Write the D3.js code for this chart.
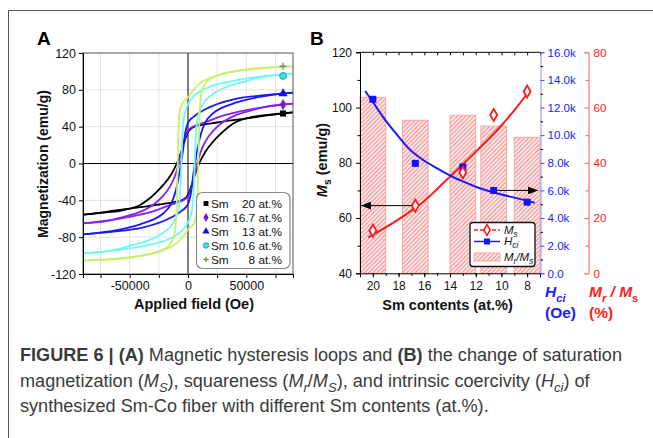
<!DOCTYPE html>
<html>
<head>
<meta charset="utf-8">
<script src="https://cdn.jsdelivr.net/npm/d3@7"></script>
<style>
body { margin: 0; background: #fff; }
svg { display: block; font-family: "Liberation Sans", Arial, sans-serif; }
</style>
</head>
<body>
<svg id="chart" width="653" height="438"></svg>
<script>
// ---------- panel A : hysteresis loops (field Oe, magnetization emu/g) ----------
var loopLabels = ["20", "16.7", "13", "10.6", "8"];

var loop20Upper = [[-90000,-55.5],[-70000,-53],[-55000,-50.5],[-41000,-45],[-35000,-40],[-27000,-31],[-21000,-23],[-15000,-13],[-9600,0],[-6000,12],[-3000,24],[0,34],[4000,39],[10000,41.5],[20000,43.5],[35000,46.5],[50000,49],[70000,52.5],[90000,55.5]];
var loop20Lower = [[-90000,-55.5],[-70000,-52.5],[-50000,-49],[-35000,-46.5],[-20000,-43.5],[-10000,-41.5],[-4000,-39],[0,-34],[3000,-24],[6000,-12],[9600,0],[15000,13],[21000,23],[27000,31],[35000,40],[41000,45],[55000,50.5],[70000,53],[90000,55.5]];

var loop167Upper = [[-90000,-65],[-70000,-62.5],[-55000,-58],[-40000,-52],[-30000,-45],[-22000,-36],[-15000,-24],[-11000,-13],[-8000,0],[-5500,13],[-3000,26],[0,36],[5000,40.5],[15000,45],[30000,52],[50000,58],[70000,62],[90000,65]];
var loop167Lower = [[-90000,-65],[-70000,-62],[-50000,-58],[-30000,-52],[-15000,-45],[-5000,-40.5],[0,-36],[3000,-26],[5500,-13],[8000,0],[11000,13],[15000,24],[22000,36],[30000,45],[40000,52],[55000,58],[70000,62.5],[90000,65]];

var loop13Upper = [[-90000,-77],[-60000,-72],[-41000,-66],[-30000,-61],[-21000,-54],[-15000,-45],[-11000,-32],[-8000,-15],[-6000,0],[-4500,12],[-3000,28],[0,44],[5000,51],[15000,59],[40000,70],[60000,73.5],[90000,77]];
var loop13Lower = [[-90000,-77],[-60000,-73.5],[-40000,-70],[-15000,-59],[-5000,-51],[0,-44],[3000,-28],[4500,-12],[6000,0],[8000,15],[11000,32],[15000,45],[21000,54],[30000,61],[41000,66],[60000,72],[90000,77]];

var loop106Upper = [[-90000,-97.5],[-60000,-93],[-49000,-89],[-35000,-84],[-21000,-75],[-13000,-65],[-9600,-56],[-7500,-42],[-6500,-25],[-5700,0],[-5000,25],[-4000,45],[-2000,58],[0,64],[2500,69],[5000,73],[10000,78],[20000,84],[40000,90],[60000,94],[90000,97.5]];
var loop106Lower = [[-90000,-97.5],[-60000,-94],[-40000,-90],[-20000,-84],[-10000,-78],[-5000,-73],[-2500,-69],[0,-64],[2000,-58],[4000,-45],[5000,-25],[5700,0],[6500,25],[7500,42],[9600,56],[13000,65],[21000,75],[35000,84],[49000,89],[60000,93],[90000,97.5]];

var loop8Upper = [[-90000,-105.5],[-55000,-102.5],[-35000,-99],[-22000,-94],[-15000,-87],[-11500,-76],[-10000,-55],[-9300,-25],[-8800,0],[-8300,30],[-7300,55],[-5000,65],[-2000,69],[0,72],[4000,79],[10000,87],[18000,92.5],[26000,96],[40000,100],[55000,103],[90000,105.5]];
var loop8Lower = [[-90000,-105.5],[-55000,-103],[-40000,-100],[-26000,-96],[-18000,-92.5],[-10000,-87],[-4000,-79],[0,-72],[2000,-69],[5000,-65],[7300,-55],[8300,-30],[8800,0],[9300,25],[10000,55],[11500,76],[15000,87],[22000,94],[35000,99],[55000,102.5],[90000,105.5]];

var markerField = 81500;
var markerMs = [54.3, 64, 76, 95.1, 105.6];

var fieldTicks = [-75000, -50000, -25000, 0, 25000, 50000, 75000];
var fieldLabels = [-50000, 0, 50000];
var magTicks = [-120, -80, -40, 0, 40, 80, 120];

// ---------- panel B ----------
var smContents = [20, 16.7, 13, 10.6, 8];
var msValues = [55.5, 64.5, 76.5, 97.3, 105.8];
var hciValues = [12600, 7960, 7700, 6000, 5150];
var squareness = [63.7, 55.4, 57.2, 53.3, 49.2];
var msFit = [[20.35,53],[19,56.6],[18,59.5],[17,62.7],[16,66.2],[15,70.5],[14,75],[13,79.5],[12,84],[11,88.6],[10,93.5],[9,99],[8,105],[7.8,106.3]];
var hciFit = [[20.6,13200],[20,12400],[19,11050],[18,9900],[17,8850],[16,8150],[15,7600],[14,7080],[13,6650],[12,6270],[11,5960],[10,5700],[9,5480],[8,5260],[7.4,5100]];
var smTicks = [20, 18, 16, 14, 12, 10, 8];
var msTicks = [40, 60, 80, 100, 120];
var hciTicks = [0, 2000, 4000, 6000, 8000, 10000, 12000, 14000, 16000];
var ratioTicks = [0, 20, 40, 60, 80];

var loops = [
  { label: loopLabels[0], upper: loop20Upper, lower: loop20Lower, color: "#000000", mark: "square", mcol: "#000" },
  { label: loopLabels[1], upper: loop167Upper, lower: loop167Lower, color: "#8a20f5", mark: "diamond", mcol: "#7a18d8" },
  { label: loopLabels[2], upper: loop13Upper, lower: loop13Lower, color: "#1818f8", mark: "triangle", mcol: "#1010e0" },
  { label: loopLabels[3], upper: loop106Upper, lower: loop106Lower, color: "#6ef8f8", mark: "circle", mcol: "#33e6e6" },
  { label: loopLabels[4], upper: loop8Upper, lower: loop8Lower, color: "#c4f266", mark: "cross", mcol: "#6f8f55" }
];

var svg = d3.select("#chart");
svg.append("rect").attr("width", 653).attr("height", 438).attr("fill", "#fff");
svg.append("path").attr("d", "M8.5,438V10.5H653").attr("fill", "none").attr("stroke", "#555");

function plain(d) { return String(d); }

function drawMarker(g, type, x, y, s, col) {
  if (type == "cross") {
    g.append("path").attr("d", "M" + (x - s) + "," + y + "H" + (x + s) + "M" + x + "," + (y - s) + "V" + (y + s))
      .attr("stroke", col).attr("stroke-width", 1.3);
    return;
  }
  var sym = { square: d3.symbolSquare, diamond: d3.symbolDiamond, triangle: d3.symbolTriangle, circle: d3.symbolCircle }[type];
  var p = g.append("path").attr("d", d3.symbol(sym, s * s * 3.2)()).attr("transform", "translate(" + x + "," + y + ")").attr("fill", col);
  if (type == "circle") p.attr("stroke", "#178f9a").attr("stroke-width", 0.8);
}

// text with sub scripts
function addRuns(sel, runs, size) {
  var shifted = 0;
  runs.forEach(function(r) {
    var ts = sel.append("tspan").text(r.t);
    if (r.b) ts.attr("font-weight", "bold");
    if (r.i) ts.attr("font-style", "italic");
    var want = r.sub ? size * 0.3 : 0;
    if (want != shifted) { ts.attr("dy", want - shifted); shifted = want; }
    if (r.sub) ts.attr("font-size", size * 0.72);
  });
}

/////////// Panel A ///////////
var xA = d3.scaleLinear().domain([-90000, 90000]).range([83, 293]);
var yA = d3.scaleLinear().domain([-120, 120]).range([274, 53]);
var gA = svg.append("g");

gA.selectAll(".vgrid").data(fieldTicks.filter(function(d) { return d != 0; })).enter().append("line")
  .attr("x1", function(d) { return xA(d); }).attr("x2", function(d) { return xA(d); })
  .attr("y1", yA(120)).attr("y2", yA(-120)).attr("stroke", "#e2e2e2");
gA.selectAll(".hgrid").data(magTicks.filter(function(d) { return d != 0 && Math.abs(d) != 120; })).enter().append("line")
  .attr("y1", function(d) { return yA(d); }).attr("y2", function(d) { return yA(d); })
  .attr("x1", xA(-90000)).attr("x2", xA(90000)).attr("stroke", "#e2e2e2");
gA.append("line").attr("x1", xA(0)).attr("x2", xA(0)).attr("y1", yA(120)).attr("y2", yA(-120)).attr("stroke", "#000");
gA.append("line").attr("y1", yA(0)).attr("y2", yA(0)).attr("x1", xA(-90000)).attr("x2", xA(90000)).attr("stroke", "#000");

var lineA = d3.line().x(function(d) { return xA(d[0]); }).y(function(d) { return yA(d[1]); }).curve(d3.curveMonotoneX);
loops.forEach(function(l) {
  [l.upper, l.lower].forEach(function(br) {
    gA.append("path").attr("d", lineA(br)).attr("fill", "none").attr("stroke", l.color).attr("stroke-width", 1.8);
  });
});
loops.forEach(function(l, i) {
  drawMarker(gA, l.mark, xA(markerField), yA(markerMs[i]), 3.4, l.mcol);
});

gA.append("rect").attr("x", 83).attr("y", 53).attr("width", 210).attr("height", 221).attr("fill", "none").attr("stroke", "#555");

var axA = gA.append("g").attr("transform", "translate(0,274)")
  .call(d3.axisBottom(xA).tickValues(fieldTicks).tickSize(4).tickPadding(3)
    .tickFormat(function(d) { return fieldLabels.indexOf(d) >= 0 ? String(d) : ""; }));
var ayA = gA.append("g").attr("transform", "translate(83,0)")
  .call(d3.axisLeft(yA).tickValues(magTicks).tickSize(4).tickPadding(3).tickFormat(plain));
[axA, ayA].forEach(function(a) {
  a.select(".domain").attr("stroke", "#000");
  a.selectAll("text").attr("font-size", 12.5).attr("font-family", "Liberation Sans, Arial, sans-serif").attr("fill", "#111");
});

svg.append("text").attr("x", 37).attr("y", 45).attr("font-size", 19).attr("font-weight", "bold").text("A");
svg.append("text").attr("transform", "translate(48,164) rotate(-90)").attr("text-anchor", "middle")
  .attr("font-size", 14).attr("font-weight", "bold").attr("fill", "#111").text("Magnetization (emu/g)");
svg.append("text").attr("x", 194).attr("y", 309).attr("text-anchor", "middle")
  .attr("font-size", 14.5).attr("font-weight", "bold").attr("fill", "#111").text("Applied field (Oe)");

// legend A
var legA = svg.append("g");
legA.append("rect").attr("x", 196.5).attr("y", 192.5).attr("width", 93.5).attr("height", 76).attr("rx", 6)
  .attr("fill", "#fff").attr("stroke", "#888").attr("stroke-width", 1.2);
loops.forEach(function(l, i) {
  var yy = 203.5 + i * 14;
  drawMarker(legA, l.mark, 206, yy, 2.7, l.mcol);
  legA.append("text").attr("x", 211).attr("y", yy + 4).attr("font-size", 11.8).attr("fill", "#111").text("Sm");
  legA.append("text").attr("x", 282).attr("y", yy + 4).attr("font-size", 11.8).attr("fill", "#111")
    .attr("text-anchor", "end").text(l.label + " at.%");
});

/////////// Panel B ///////////
var xB = d3.scaleLinear().domain([21, 7]).range([360, 540]);
var yMs = d3.scaleLinear().domain([40, 120]).range([273.3, 52.3]);
var yHci = d3.scaleLinear().domain([0, 16000]).range([273.3, 52.3]);
var yRatio = d3.scaleLinear().domain([0, 80]).range([273.3, 52.3]);
var gB = svg.append("g");

var defs = svg.append("defs");
var pat = defs.append("pattern").attr("id", "hatch").attr("patternUnits", "userSpaceOnUse")
  .attr("width", 3).attr("height", 3).attr("patternTransform", "rotate(45)");
pat.append("rect").attr("width", 3).attr("height", 3).attr("fill", "#fde6e6");
pat.append("line").attr("x1", 0.5).attr("y1", 0).attr("x2", 0.5).attr("y2", 3).attr("stroke", "#f39191").attr("stroke-width", 1);
defs.append("marker").attr("id", "arrow").attr("viewBox", "0 0 10 8").attr("refX", 10).attr("refY", 4)
  .attr("markerWidth", 10).attr("markerHeight", 8).attr("markerUnits", "userSpaceOnUse").attr("orient", "auto")
  .append("path").attr("d", "M0,0L10,4L0,8z").attr("fill", "#000");

gB.selectAll(".bar").data(smContents).enter().append("rect")
  .attr("x", function(d) { return xB(d + 1); })
  .attr("width", function(d) { return xB(d - 1) - xB(d + 1); })
  .attr("y", function(d, i) { return yRatio(squareness[i]); })
  .attr("height", function(d, i) { return yRatio(0) - yRatio(squareness[i]); })
  .attr("fill", "url(#hatch)").attr("stroke", "#f5a5a5").attr("stroke-width", 1);

var lineMs = d3.line().x(function(d) { return xB(d[0]); }).y(function(d) { return yMs(d[1]); }).curve(d3.curveCatmullRom);
var lineHci = d3.line().x(function(d) { return xB(d[0]); }).y(function(d) { return yHci(d[1]); }).curve(d3.curveCatmullRom);
gB.append("path").attr("d", lineMs(msFit)).attr("fill", "none").attr("stroke", "#ff1a1a").attr("stroke-width", 2);
gB.append("path").attr("d", lineHci(hciFit)).attr("fill", "none").attr("stroke", "#1a1aff").attr("stroke-width", 2);

gB.selectAll(".hci").data(smContents).enter().append("rect")
  .attr("x", function(d) { return xB(d) - 3.5; })
  .attr("y", function(d, i) { return yHci(hciValues[i]) - 3.5; })
  .attr("width", 7).attr("height", 7).attr("fill", "#1010ff");
gB.selectAll(".ms").data(smContents).enter().append("path")
  .attr("d", d3.symbol(d3.symbolDiamond, 42)())
  .attr("transform", function(d, i) { return "translate(" + xB(d) + "," + yMs(msValues[i]) + ")"; })
  .attr("fill", "#fff").attr("stroke", "#ff1a1a").attr("stroke-width", 1.8);

// arrows pointing at the axis each series belongs to
gB.append("line").attr("x1", xB(smContents[1]) - 4).attr("x2", xB(21) + 1)
  .attr("y1", yMs(msValues[1])).attr("y2", yMs(msValues[1])).attr("stroke", "#000").attr("marker-end", "url(#arrow)");
gB.append("line").attr("x1", xB(smContents[3]) + 4).attr("x2", xB(7) - 2)
  .attr("y1", yHci(hciValues[3])).attr("y2", yHci(hciValues[3])).attr("stroke", "#000").attr("marker-end", "url(#arrow)");

// frame + axes
gB.append("line").attr("x1", 360).attr("x2", 540).attr("y1", 52.3).attr("y2", 52.3).attr("stroke", "#000");
var minorSm = d3.range(21, 6, -1);
gB.append("g").attr("transform", "translate(0,52.3)").call(d3.axisTop(xB).tickValues(minorSm).tickSize(-3).tickFormat(""))
  .select(".domain").remove();
var axB = gB.append("g").attr("transform", "translate(0,273.3)")
  .call(d3.axisBottom(xB).tickValues(smTicks).tickSize(4).tickPadding(4).tickFormat(plain));
gB.append("g").attr("transform", "translate(0,273.3)").call(d3.axisBottom(xB).tickValues(minorSm).tickSize(2.5).tickFormat(""))
  .select(".domain").remove();
var ayB = gB.append("g").attr("transform", "translate(360,0)")
  .call(d3.axisLeft(yMs).tickValues(msTicks).tickSize(4).tickPadding(4).tickFormat(plain));
gB.append("g").attr("transform", "translate(360,0)").call(d3.axisLeft(yMs).tickValues([50, 70, 90, 110]).tickSize(2.5).tickFormat(""))
  .select(".domain").remove();
[axB, ayB].forEach(function(a) {
  a.select(".domain").attr("stroke", "#000");
  a.selectAll("text").attr("font-size", 12).attr("font-family", "Liberation Sans, Arial, sans-serif").attr("fill", "#111");
});

var aBlue = gB.append("g").attr("transform", "translate(540.5,0)")
  .call(d3.axisRight(yHci).tickValues(hciTicks).tickSize(4).tickPadding(3)
    .tickFormat(function(d) { return (d / 1000).toFixed(1) + (d == 0 ? "" : "k"); }));
gB.append("g").attr("transform", "translate(540.5,0)").call(d3.axisRight(yHci).tickValues(d3.range(1000, 16000, 2000)).tickSize(2.5).tickFormat(""))
  .select(".domain").remove();
aBlue.select(".domain").attr("stroke", "#8c8cff");
aBlue.selectAll("line").attr("stroke", "#4040ff");
aBlue.selectAll("text").attr("fill", "#1a1aff").attr("font-size", 11.6).attr("font-family", "Liberation Sans, Arial, sans-serif");

var aRed = gB.append("g").attr("transform", "translate(588.5,0)")
  .call(d3.axisRight(yRatio).tickValues(ratioTicks).tickSize(-4).tickPadding(5).tickFormat(plain));
gB.append("g").attr("transform", "translate(588.5,0)").call(d3.axisRight(yRatio).tickValues([10, 30, 50, 70]).tickSize(-3).tickFormat(""))
  .selectAll("line").attr("stroke", "#ff5050");
aRed.select(".domain").attr("stroke", "#ff8a8a");
aRed.selectAll("line").attr("stroke", "#ff5050");
aRed.selectAll("text").attr("fill", "#ff2020").attr("font-size", 11.6).attr("font-family", "Liberation Sans, Arial, sans-serif");
gB.selectAll(".domain").filter(function() { return !this.getAttribute("stroke") || this.getAttribute("stroke") == "currentColor"; })
  .attr("stroke", "#ff8a8a");

svg.append("text").attr("x", 310).attr("y", 45).attr("font-size", 19).attr("font-weight", "bold").text("B");

var tMs = svg.append("text").attr("transform", "translate(327,160) rotate(-90)").attr("text-anchor", "middle")
  .attr("font-size", 14.5).attr("font-weight", "bold").attr("fill", "#111");
addRuns(tMs, [{ t: "M", i: 1 }, { t: "s", i: 0, sub: 1 }, { t: " (emu/g)" }], 14.5);
svg.append("text").attr("x", 447.5).attr("y", 310).attr("text-anchor", "middle")
  .attr("font-size", 14.5).attr("font-weight", "bold").attr("fill", "#111").text("Sm contents (at.%)");

var tH = svg.append("text").attr("x", 545).attr("y", 297).attr("font-size", 15.5).attr("font-weight", "bold").attr("fill", "#1a1aff");
addRuns(tH, [{ t: "H", i: 1 }, { t: "ci", i: 1, sub: 1 }], 15.5);
svg.append("text").attr("x", 545).attr("y", 318).attr("font-size", 15.5).attr("font-weight", "bold").attr("fill", "#1a1aff").text("(Oe)");
var tR = svg.append("text").attr("x", 589).attr("y", 297).attr("font-size", 15.5).attr("font-weight", "bold").attr("fill", "#ff2020");
addRuns(tR, [{ t: "M", i: 1 }, { t: "r", i: 1, sub: 1 }, { t: " / ", i: 1 }, { t: "M", i: 1 }, { t: "s", i: 0, sub: 1 }], 15.5);
svg.append("text").attr("x", 589).attr("y", 318).attr("font-size", 15.5).attr("font-weight", "bold").attr("fill", "#ff2020").text("(%)");

// legend B
var legB = svg.append("g");
legB.append("rect").attr("x", 470).attr("y", 222.5).attr("width", 65).attr("height", 44).attr("rx", 3)
  .attr("fill", "#fff").attr("stroke", "#111").attr("stroke-width", 1.3);
legB.append("line").attr("x1", 474).attr("x2", 500).attr("y1", 230).attr("y2", 230)
  .attr("stroke", "#ff1a1a").attr("stroke-width", 1.5).attr("stroke-dasharray", "4,2");
legB.append("path").attr("d", d3.symbol(d3.symbolDiamond, 34)()).attr("transform", "translate(487,230)")
  .attr("fill", "#fff").attr("stroke", "#ff1a1a").attr("stroke-width", 1.6);
legB.append("line").attr("x1", 474).attr("x2", 500).attr("y1", 241.5).attr("y2", 241.5).attr("stroke", "#1a1aff").attr("stroke-width", 1.5);
legB.append("rect").attr("x", 484).attr("y", 238.5).attr("width", 6).attr("height", 6).attr("fill", "#1010ff");
legB.append("rect").attr("x", 474).attr("y", 253).attr("width", 26).attr("height", 8)
  .attr("fill", "url(#hatch)").attr("stroke", "#f5a5a5");
var l1 = legB.append("text").attr("x", 504).attr("y", 233.5).attr("font-size", 11.5).attr("fill", "#111");
addRuns(l1, [{ t: "M", i: 1 }, { t: "s", i: 1, sub: 1 }], 11.5);
var l2 = legB.append("text").attr("x", 504).attr("y", 245).attr("font-size", 11.5).attr("fill", "#111");
addRuns(l2, [{ t: "H", i: 1 }, { t: "ci", i: 1, sub: 1 }], 11.5);
var l3 = legB.append("text").attr("x", 504).attr("y", 260.5).attr("font-size", 11.5).attr("fill", "#111");
addRuns(l3, [{ t: "M", i: 1 }, { t: "r", i: 1, sub: 1 }, { t: "/", i: 1 }, { t: "M", i: 1 }, { t: "s", i: 1, sub: 1 }], 11.5);

/////////// caption ///////////
var capLines = [
  [{ t: "FIGURE 6 | (A)", b: 1 }, { t: " Magnetic hysteresis loops and " }, { t: "(B)", b: 1 }, { t: " the change of saturation" }],
  [{ t: "magnetization (" }, { t: "M", i: 1 }, { t: "S", i: 1, sub: 1 }, { t: "), squareness (" }, { t: "M", i: 1 }, { t: "r", i: 1, sub: 1 },
   { t: "/" }, { t: "M", i: 1 }, { t: "S", i: 1, sub: 1 }, { t: "), and intrinsic coercivity (" }, { t: "H", i: 1 }, { t: "ci", i: 1, sub: 1 }, { t: ") of" }],
  [{ t: "synthesized Sm-Co fiber with different Sm contents (at.%)." }]
];
var probe = svg.append("text").attr("font-size", 16);
addRuns(probe, capLines[0], 16);
var capSize = 16 * 602 / probe.node().getComputedTextLength();
probe.remove();
capLines.forEach(function(runs, i) {
  var t = svg.append("text").attr("x", 20).attr("y", 361 + i * 25.5).attr("font-size", capSize).attr("fill", "#3a3a3a");
  addRuns(t, runs, capSize);
});
</script>
</body>
</html>
